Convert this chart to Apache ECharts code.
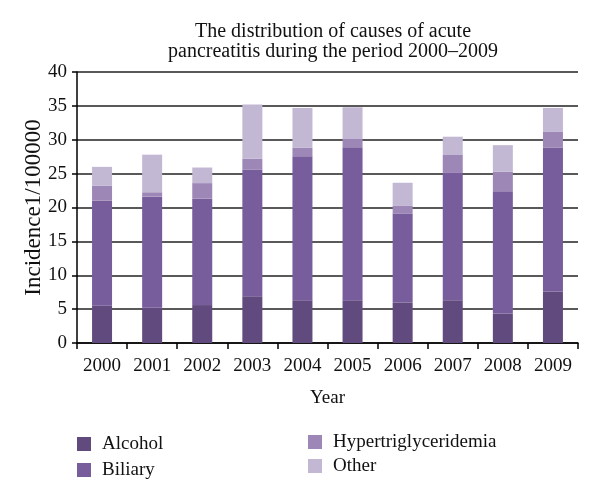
<!DOCTYPE html>
<html><head><meta charset="utf-8">
<script src="https://cdn.jsdelivr.net/npm/echarts@6/dist/echarts.min.js"></script>
<style>html,body{margin:0;padding:0;background:#fff}#c{width:600px;height:500px}</style>
</head><body><div id="c"></div>
<script>
const years = ['2000','2001','2002','2003','2004','2005','2006','2007','2008','2009'];
const alcohol = [5.5, 5.2, 5.6, 6.9, 6.3, 6.3, 6.0, 6.3, 4.3, 7.6];
const biliary = [15.5, 16.4, 15.7, 18.7, 21.25, 22.6, 13.1, 18.8, 18.1, 21.25];
const hypertriglyceridemia = [2.2, 0.65, 2.3, 1.6, 1.3, 1.3, 1.2, 2.65, 2.9, 2.3];
const other = [2.8, 5.55, 2.3, 8.0, 5.85, 4.6, 3.35, 2.7, 3.9, 3.55];
const yTicks = [0,5,10,15,20,25,30,35,40];

const F = '"Liberation Serif", serif';
const colors = ['#614b7e', '#775d9b', '#9d87b7', '#c3b8d4'];
const names = ['Alcohol','Biliary','Hypertriglyceridemia','Other'];
const data = [alcohol, biliary, hypertriglyceridemia, other];

const chart = echarts.init(document.getElementById('c'));
chart.setOption({
  animation: false,
  color: colors,
  title: {
    text: 'The distribution of causes of acute\npancreatitis during the period 2000\u20132009',
    left: 328, textAlign: 'center', top: 17,
    textStyle: {fontFamily: F, fontSize: 20, fontWeight: 'normal', color: '#111', lineHeight: 20}
  },
  legend: [
    {data: ['Alcohol','Biliary'], orient: 'vertical', left: 72, top: 429, itemWidth: 14, itemHeight: 14, itemGap: 6,
     textStyle: {fontFamily: F, fontSize: 19, lineHeight: 20, color: '#111', padding: [0,0,0,6]}, icon: 'rect'},
    {data: ['Hypertriglyceridemia','Other'], orient: 'vertical', left: 303, top: 427, itemWidth: 14, itemHeight: 14, itemGap: 4,
     textStyle: {fontFamily: F, fontSize: 19, lineHeight: 20, color: '#111', padding: [0,0,0,6]}, icon: 'rect'}
  ],
  grid: {left: 77, right: 22, top: 72, bottom: 157, containLabel: false},
  xAxis: {
    type: 'category', data: years,
    name: 'Year', nameLocation: 'middle', nameGap: 46,
    nameTextStyle: {fontFamily: F, fontSize: 19, color: '#111'},
    axisLine: {lineStyle: {color: '#000', width: 1.5}},
    axisTick: {show: true, length: 6, lineStyle: {color: '#000', width: 1.5}},
    axisLabel: {fontFamily: F, fontSize: 19, color: '#111', margin: 14}
  },
  yAxis: {
    type: 'value', min: 0, max: 40, interval: 5,
    name: 'Incidence1/100000', nameLocation: 'middle', nameGap: 32, nameMoveOverlap: false,
    nameTextStyle: {fontFamily: F, fontSize: 23, color: '#111'},
    axisLine: {show: true, lineStyle: {color: '#000', width: 1.5}},
    axisTick: {show: true, length: 5, lineStyle: {color: '#000', width: 1.5}},
    axisLabel: {fontFamily: F, fontSize: 19, color: '#111', margin: 10,
      formatter: v => yTicks.includes(v) ? String(v) : ''},
    splitLine: {lineStyle: {color: '#222', width: 1.5}}
  },
  series: names.map((n, i) => ({
    name: n, type: 'bar', stack: 'total', data: data[i], barWidth: 20,
    itemStyle: {color: colors[i]}
  }))
});
</script></body></html>
